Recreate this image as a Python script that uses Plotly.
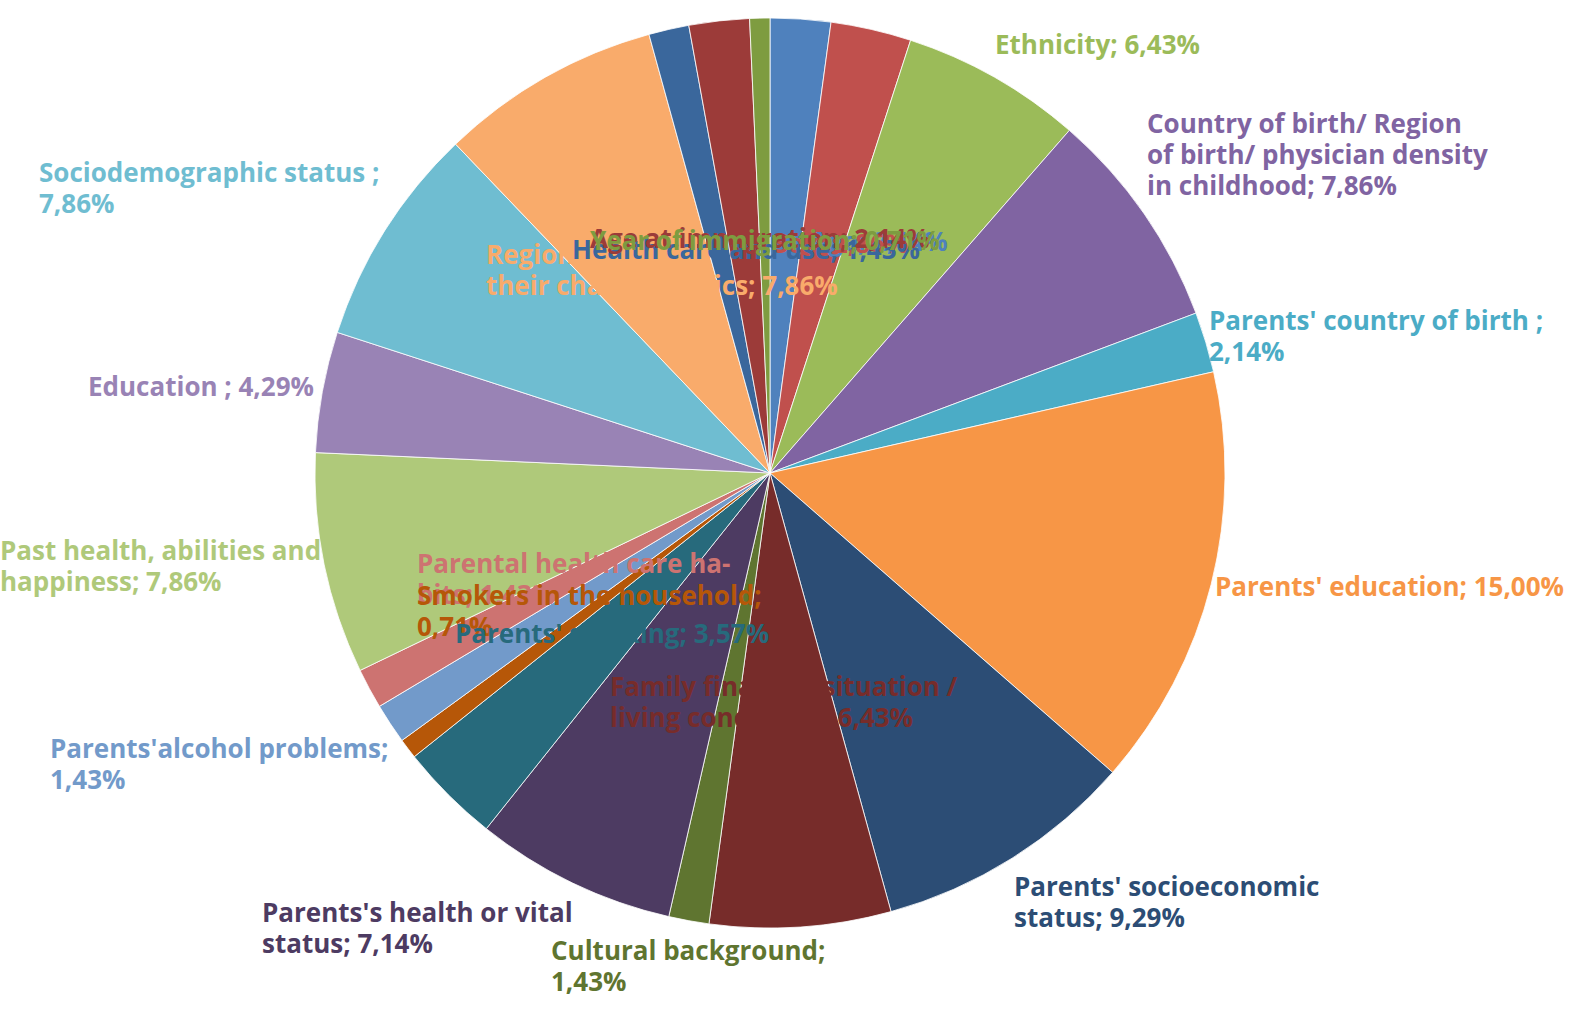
import plotly.graph_objects as go

# Number of studies using each variable (out of 140), clockwise from 12 o'clock
categories = [
    "Age", "Sex", "Ethnicity",
    "Country of birth/ Region of birth/ physician density in childhood",
    "Parents' country of birth", "Parents' education",
    "Parents' socioeconomic status",
    "Family financial situation / living conditions",
    "Cultural background", "Parents's health or vital status",
    "Parents' smoking", "Smokers in the household",
    "Parents'alcohol problems", "Parental health care habits",
    "Past health, abilities and happiness", "Education",
    "Sociodemographic status", "Regions and their characteristics",
    "Health care and use", "Age at immigration", "Year of immigration",
]
counts = [3, 4, 9, 11, 3, 21, 13, 9, 2, 10, 5, 1, 2, 2, 11, 6, 11, 11, 2, 3, 1]

# Label text; {p} is replaced by the share of the slice
label_templates = [
    "Age; {p}", "Sex; {p}", "Ethnicity; {p}",
    "Country of birth/ Region<br>of birth/ physician density<br>in childhood; {p}",
    "Parents' country of birth ;<br>{p}", "Parents' education; {p}",
    "Parents' socioeconomic<br>status; {p}",
    "Family financial situation /<br>living conditions; {p}",
    "Cultural background;<br>{p}", "Parents's health or vital<br>status; {p}",
    "Parents' smoking; {p}", "Smokers in the household;<br>{p}",
    "Parents'alcohol problems;<br>{p}", "Parental health care ha-<br>bits; {p}",
    "Past health, abilities and<br>happiness; {p}", "Education ; {p}",
    "Sociodemographic status ;<br>{p}", "Regions and<br>their characteristics; {p}",
    "Health care and use; {p}", "Age at immigration; {p}",
    "Year of immigration; {p}",
]

colors = [
    "#4F81BD", "#C0504D", "#9BBB59", "#8064A2", "#4BACC6", "#F79646",
    "#2C4D75", "#772C2A", "#5F7530", "#4D3B62", "#276A7C", "#B65708",
    "#729ACA", "#CD7371", "#AFC97A", "#9983B5", "#6FBDD1", "#F9AB6B",
    "#3A679C", "#9C3B39", "#7E9C40",
]

W, H = 1576, 1010
LINE_STEP = 31  # px between label lines

# Left edge and first-line centre of each label, in pixels
label_pos = [
    (808, 241), (772, 243), (993, 44), (1145, 123), (1207, 320),
    (1213, 586), (1012, 886), (608, 686), (549, 950), (260, 912),
    (453, 633), (415, 595), (48, 748), (415, 563), (-2, 550),
    (86, 386), (37, 172), (484, 254), (570, 249), (588, 238), (588, 240),
]
draw_order = [0, 1, 2, 3, 4, 5, 6, 7, 8, 9, 12, 13, 11, 10, 14, 15, 16, 17, 18, 19, 20]

total = sum(counts)


def pct_text(v):
    return f"{100 * v / total:.2f}%".replace(".", ",")


# Pie geometry in pixels
cx, cy, r = 770, 473, 455

fig = go.Figure(go.Pie(
    labels=categories,
    values=counts,
    sort=False,
    direction="clockwise",
    rotation=0,
    marker=dict(colors=colors, line=dict(color="#FFFFFF", width=0.8)),
    textinfo="none",
    hoverinfo="label+percent",
    showlegend=False,
    domain=dict(x=[(cx - r) / W, (cx + r) / W],
                y=[(H - cy - r) / H, (H - cy + r) / H]),
))

annotations = []
for i in draw_order:
    x, y0 = label_pos[i]
    lines = label_templates[i].format(p=pct_text(counts[i])).split("<br>")
    for k, line in enumerate(lines):
        annotations.append(dict(
            x=x / W, y=1 - (y0 + k * LINE_STEP) / H,
            xref="paper", yref="paper",
            xanchor="left", yanchor="middle", align="left",
            text=line, showarrow=False,
            font=dict(family="Open Sans", size=26, color=colors[i], weight="bold"),
        ))

fig.update_layout(
    width=W, height=H,
    margin=dict(l=0, r=0, t=0, b=0),
    paper_bgcolor="#FFFFFF", plot_bgcolor="#FFFFFF",
    annotations=annotations,
)

fig.write_html("out.html")
